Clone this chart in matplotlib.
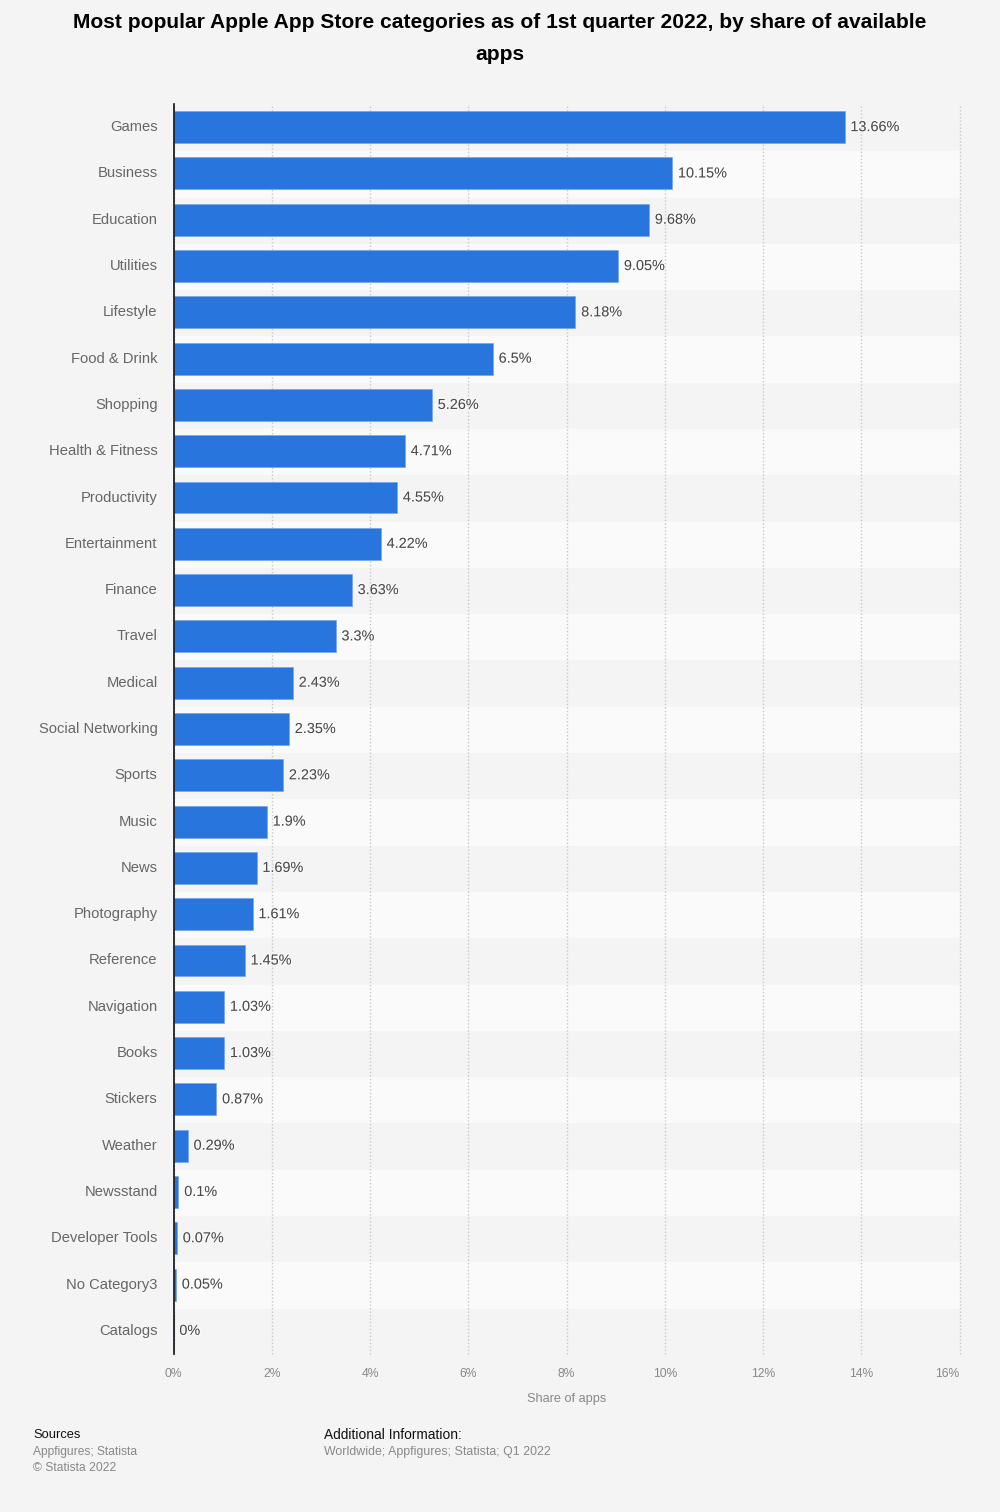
import matplotlib
matplotlib.use("Agg")
import matplotlib.pyplot as plt
import matplotlib.patheffects as pe

categories = ["Games", "Business", "Education", "Utilities", "Lifestyle", "Food & Drink",
              "Shopping", "Health & Fitness", "Productivity", "Entertainment", "Finance",
              "Travel", "Medical", "Social Networking", "Sports", "Music", "News",
              "Photography", "Reference", "Navigation", "Books", "Stickers", "Weather",
              "Newsstand", "Developer Tools", "No Category3", "Catalogs"]
shares = [13.66, 10.15, 9.68, 9.05, 8.18, 6.5, 5.26, 4.71, 4.55, 4.22, 3.63, 3.3, 2.43,
          2.35, 2.23, 1.9, 1.69, 1.61, 1.45, 1.03, 1.03, 0.87, 0.29, 0.1, 0.07, 0.05, 0]
x_ticks = [0, 2, 4, 6, 8, 10, 12, 14, 16]

W, H = 1000, 1512
plt.rcParams['font.family'] = ['Liberation Sans', 'DejaVu Sans']
BG = "#f4f4f4"

fig = plt.figure(figsize=(W / 100, H / 100), dpi=100, facecolor=BG)
ax = fig.add_axes([173.5 / W, 1 - 1354 / H, (959.5 - 173.5) / W, (1354 - 104) / H])
ax.set_facecolor(BG)

# alternating row bands, sitting about a pixel below the bar gaps
for i in range(len(categories)):
    if i % 2 == 1:
        ax.axhspan(i - 0.48, i + 0.52, color="#fafafa", lw=0, zorder=0)

ax.set_xlim(0, 16)
ax.set_ylim(len(categories) - 0.5, -0.5)

ax.xaxis.grid(True, color="#c8c8c8", linestyle=(0, (1, 1.5)), linewidth=1, zorder=1, clip_on=False)
ax.set_axisbelow(True)

ax.barh(range(len(categories)), shares, height=0.69, color="#2876dd",
        edgecolor="#6fa3e8", linewidth=0.4, zorder=2)

for i, v in enumerate(shares):
    ax.annotate(f"{v:g}%", (v, i), xytext=(4.2, 0), textcoords="offset points",
                va="center", ha="left", fontsize=10.4, color="#4a4a4a", zorder=4,
                path_effects=[pe.withStroke(linewidth=1.5, foreground="#ffffff", alpha=0.6)])

for s in ["top", "right", "bottom"]:
    ax.spines[s].set_visible(False)
ax.spines["left"].set_color("#111111")
ax.spines["left"].set_linewidth(1.2)
ax.spines["left"].set_zorder(5)

ax.set_yticks(range(len(categories)))
ax.set_yticklabels(categories, fontsize=10.6, color="#666666", va="center")
ax.tick_params(axis="y", length=0, pad=11.5)
ax.set_xticks(x_ticks)
labels = ax.set_xticklabels([f"{t}%" for t in x_ticks], fontsize=8.7, color="#888888")
labels[-1].set_ha("right")  # last label kept inside the plot edge
ax.tick_params(axis="x", length=0, pad=10)
ax.set_xlabel("Share of apps", fontsize=9.2, color="#888888", labelpad=9.7)

fig.text(0.5, 1 - 22.5 / H, "Most popular Apple App Store categories as of 1st quarter 2022, by share of available",
         ha="center", va="center", fontsize=15.15, fontweight="bold", color="#000000")
fig.text(0.5, 1 - 54.5 / H, "apps", ha="center", va="center", fontsize=15.15, fontweight="bold", color="#000000")

fig.text(33 / W, 1 - 1435 / H, "Sources", fontsize=9.3, color="#111111", va="center")
fig.text(33 / W, 1 - 1452 / H, "Appfigures; Statista", fontsize=8.65, color="#888888", va="center")
fig.text(33 / W, 1 - 1468 / H, "© Statista 2022", fontsize=8.7, color="#888888", va="center")
fig.text(324 / W, 1 - 1435 / H, "Additional Information:", fontsize=9.9, color="#111111", va="center")
fig.text(324 / W, 1 - 1452 / H, "Worldwide; Appfigures; Statista; Q1 2022", fontsize=8.95, color="#888888", va="center")

fig.savefig("out.png", dpi=100, facecolor=BG)
